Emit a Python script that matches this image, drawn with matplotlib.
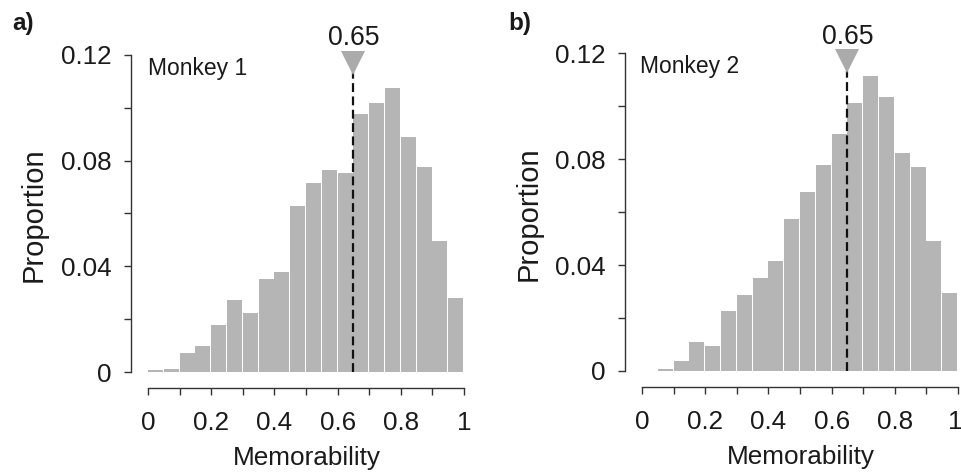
import numpy as np
import matplotlib
matplotlib.use("Agg")
import matplotlib.pyplot as plt
from matplotlib.transforms import ScaledTranslation

plt.rcParams['font.family'] = ['Liberation Sans', 'DejaVu Sans']

# ---- data ----
bin_lefts = [0.00, 0.05, 0.10, 0.15, 0.20, 0.25, 0.30, 0.35, 0.40, 0.45,
             0.50, 0.55, 0.60, 0.65, 0.70, 0.75, 0.80, 0.85, 0.90, 0.95]
bin_width = 0.05
monkey1 = [0.0006, 0.0012, 0.0073, 0.0098, 0.0179, 0.0272, 0.0222, 0.0353, 0.0378, 0.0628,
           0.0715, 0.0764, 0.0753, 0.0976, 0.1020, 0.1074, 0.0889, 0.0777, 0.0497, 0.0280]
monkey2 = [0.0000, 0.0007, 0.0039, 0.0110, 0.0094, 0.0227, 0.0288, 0.0350, 0.0414, 0.0575,
           0.0677, 0.0779, 0.0895, 0.1012, 0.1113, 0.1035, 0.0825, 0.0771, 0.0491, 0.0296]
median_value = 0.65
panel_labels = ["a)", "b)"]
monkey_names = ["Monkey 1", "Monkey 2"]
xtick_vals = [0.0, 0.1, 0.2, 0.3, 0.4, 0.5, 0.6, 0.7, 0.8, 0.9, 1.0]
xtick_labels = ["0", "", "0.2", "", "0.4", "", "0.6", "", "0.8", "", "1"]
ytick_vals = [0.0, 0.02, 0.04, 0.06, 0.08, 0.10, 0.12]
ytick_labels = ["0", "", "0.04", "", "0.08", "", "0.12"]

BAR = '#b5b5b5'
TRI = '#ababab'
AX = '#333333'
TXT = '#1a1a1a'
FS_TICK = 18.7
FS_XLAB = 18.8
FS_YLAB = 21
FS_MED = 19.2
FS_NAME = 16.5
FS_PANEL = 17.5

fig = plt.figure(figsize=(9.61, 4.76), dpi=100)
W, H = 961, 476

def make_axes(x_left_px, y_bottom_px, w_px, h_px):
    return fig.add_axes([x_left_px / W, (H - y_bottom_px) / H, w_px / W, h_px / H])

xlim = (-0.055, 1.0)
ylim = (-0.006, 0.125)
specs = [
    (148, 316, 372, 2642, monkey1, 48),
    (642, 316, 371, 2647, monkey2, 543),
]

for i, (x0, xs, y0, ys, vals, ylab_right) in enumerate(specs):
    left_px = x0 + xlim[0] * xs
    w_px = (xlim[1] - xlim[0]) * xs
    bottom_px = y0 - ylim[0] * ys
    h_px = (ylim[1] - ylim[0]) * ys
    ax = make_axes(left_px, bottom_px, w_px + 1, h_px)
    ax.set_xlim(xlim[0], xlim[1] + 1 / xs)
    ax.set_ylim(*ylim)
    ax.bar(bin_lefts, vals, width=bin_width * 0.95, align='edge', color=BAR,
           linewidth=0, zorder=2)
    ax.plot([median_value, median_value], [0, 0.1135], color='#111111',
            lw=1.6, linestyle=(0, (4, 2)), zorder=3)
    ax.plot([median_value], [0.1170], marker='v', ms=17, color=TRI,
            markeredgewidth=0, clip_on=False, zorder=4)
    ax.text(median_value, 0.1237, "0.65", ha='center', va='baseline',
            fontsize=FS_MED, color=TXT, clip_on=False)
    ax.text(0.0 if i == 0 else -0.006, 0.1124, monkey_names[i], ha='left',
            va='baseline', fontsize=FS_NAME, color=TXT)

    for s in ['top', 'right']:
        ax.spines[s].set_visible(False)
    ax.spines['left'].set_bounds(0, 0.12)
    ax.spines['bottom'].set_bounds(0, 1)
    for s in ['left', 'bottom']:
        ax.spines[s].set_color(AX)
        ax.spines[s].set_linewidth(1.0)
    ax.set_xticks(xtick_vals)
    ax.set_xticklabels(xtick_labels)
    ax.set_yticks(ytick_vals)
    ax.set_yticklabels(ytick_labels)
    ax.tick_params(axis='both', direction='out', length=5, width=1.0,
                   color=AX, labelsize=FS_TICK, labelcolor=TXT)
    ax.tick_params(axis='y', pad=8.5)
    ax.tick_params(axis='x', pad=11.5)
    ax.set_facecolor('none')
    ax.set_ylabel("Proportion", fontsize=FS_YLAB, color=TXT)
    ax.yaxis.set_label_coords((ylab_right - left_px) / w_px, 0.5)
    ax.set_xlabel("Memorability", fontsize=FS_XLAB, color=TXT)
    ax.xaxis.set_label_coords((0.5 - xlim[0]) / (xlim[1] - xlim[0]), -0.168)
    if i == 1:
        last = ax.get_xticklabels()[-1]
        last.set_transform(last.get_transform() + ScaledTranslation(-0.025, 0, fig.dpi_scale_trans))

fig.text(12 / W, 1 - 30 / H, panel_labels[0], fontsize=FS_PANEL, fontweight='bold', color=TXT, va='baseline')
fig.text(508 / W, 1 - 30 / H, panel_labels[1], fontsize=FS_PANEL, fontweight='bold', color=TXT, va='baseline')

fig.savefig("out.png", dpi=100)
